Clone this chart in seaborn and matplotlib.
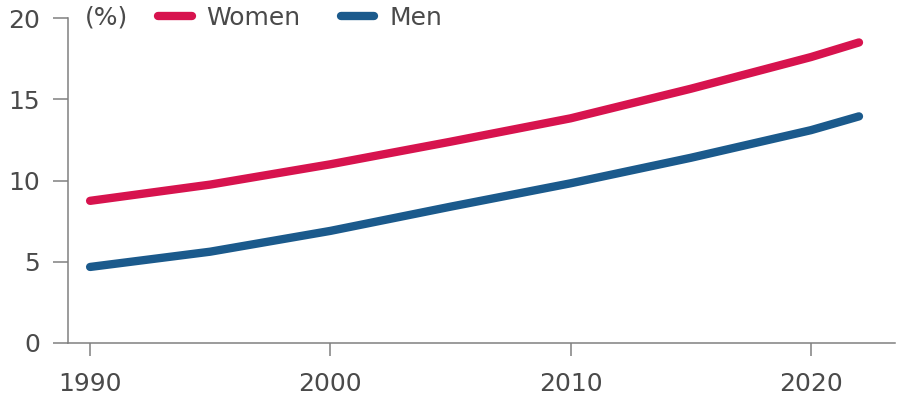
import matplotlib
matplotlib.use("Agg")
import matplotlib.pyplot as plt
import seaborn as sns
import pandas as pd
from matplotlib.lines import Line2D

years = [1990, 1995, 2000, 2005, 2010, 2015, 2020, 2022]
women = [8.75, 9.75, 11.0, 12.39, 13.83, 15.65, 17.6, 18.5]
men = [4.68, 5.62, 6.9, 8.39, 9.83, 11.4, 13.1, 13.95]
series_names = ["Women", "Men"]
x_ticks = [1990, 2000, 2010, 2020]
y_ticks = [0, 5, 10, 15, 20]

df = pd.DataFrame({
    "year": years * 2,
    "value": women + men,
    "series": [series_names[0]] * len(years) + [series_names[1]] * len(years),
})

sns.set_theme(style="white")
plt.rcParams["font.family"] = ["DejaVu Sans"]

fig = plt.figure(figsize=(8.97, 4.11), dpi=100)
ax = fig.add_axes([0.0758, 0.1655, 0.922, 0.7905])

palette = {"Women": "#D7134E", "Men": "#1B5A8C"}
sns.lineplot(data=df, x="year", y="value", hue="series", palette=palette,
             linewidth=6, ax=ax, legend=False,
             solid_capstyle="round", solid_joinstyle="round")

ax.set_xlim(1989.08, 2023.5)
ax.set_ylim(0, 20)
ax.set_xticks(x_ticks)
ax.set_yticks(y_ticks)
ax.set_xlabel("")
ax.set_ylabel("")
for s in ["top", "right"]:
    ax.spines[s].set_visible(False)
for s in ["left", "bottom"]:
    ax.spines[s].set_color("#808080")
    ax.spines[s].set_linewidth(1.1)
ax.tick_params(axis="both", which="both", direction="out", bottom=True, left=True,
               width=1.1, color="#808080", labelsize=18, labelcolor="#4a4a4a")
ax.tick_params(axis="y", length=11, pad=9)
ax.tick_params(axis="x", length=9, pad=12)

fig.text(0.0948, 0.957, "(%)", fontsize=18, color="#4a4a4a", va="center", ha="left")

handles = [Line2D([0], [0], color=palette[n], lw=6, solid_capstyle="round") for n in series_names]
leg = fig.legend(handles, series_names, loc="center left", bbox_to_anchor=(0.176, 0.957),
                 ncol=2, frameon=False, fontsize=18, handlelength=1.35,
                 columnspacing=1.6, handletextpad=0.6, borderaxespad=0, borderpad=0)
for t in leg.get_texts():
    t.set_color("#4a4a4a")

fig.savefig("out.png", dpi=100)
